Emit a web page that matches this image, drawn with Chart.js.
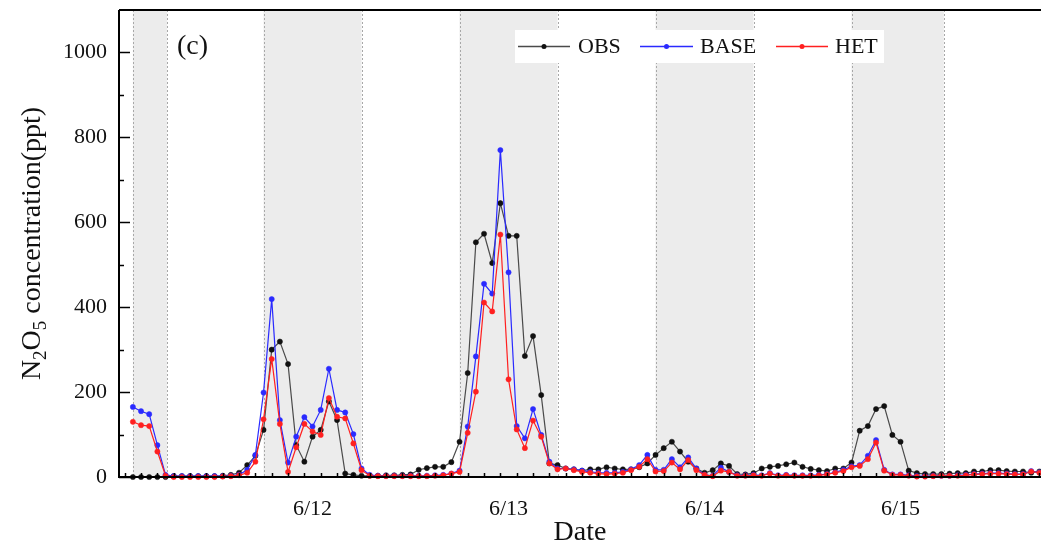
<!DOCTYPE html>
<html><head><meta charset="utf-8">
<script src="https://cdn.jsdelivr.net/npm/chart.js@4.4.0/dist/chart.umd.min.js"></script>
<style>html,body{margin:0;padding:0;background:#fff;}#wrap{width:1041px;height:547px;}</style>
</head><body><div id="wrap"><canvas id="c" width="1041" height="547"></canvas></div>
<script>
// first sample at 6/11 02:00, hourly; x values are hours since 6/11 00:00
const startHour = 2;
const obs = [
  0,0,0,0,0,2,2,2,2,2,
  2,3,5,10,28,50,111,300,319,266,
  75,36,95,111,178,134,8,5,3,3,
  3,4,4,5,6,17,21,24,24,35,
  83,245,553,573,504,645,568,568,285,332,
  193,32,28,20,18,15,18,18,23,20,
  18,18,23,32,52,68,83,60,36,20,
  10,16,32,26,7,6,9,20,24,26,
  30,34,24,19,16,14,20,20,34,109,
  120,160,167,99,83,15,9,7,7,7,
  8,9,9,13,13,16,16,14,13,13,
  10,13];
const base = [
  165,155,148,75,5,2,2,2,2,2,
  2,2,3,5,17,52,199,419,134,34,
  95,141,119,158,255,158,152,101,20,5,
  3,3,3,3,3,3,3,4,5,8,
  15,119,284,455,432,770,482,120,91,160,
  99,36,20,20,18,15,12,10,10,10,
  12,18,28,52,17,17,42,23,46,20,
  5,3,22,12,4,4,5,4,9,4,
  5,4,4,4,5,7,11,17,25,28,
  50,87,17,6,6,4,2,2,3,3,
  3,4,5,7,8,9,9,8,7,7,
  14,11];
const het = [
  130,122,120,60,3,0,0,0,0,0,
  0,1,2,4,10,36,136,278,125,12,
  70,125,107,99,186,142,138,79,16,3,
  2,2,2,2,2,2,2,3,4,8,
  12,104,201,411,390,571,230,112,68,133,
  95,32,18,20,16,12,10,8,7,8,
  10,16,24,42,13,14,34,18,40,16,
  5,2,15,12,3,3,4,3,8,3,
  4,3,3,3,4,6,10,14,23,26,
  42,81,15,5,5,3,1,1,2,3,
  3,3,4,6,7,8,8,7,6,6,
  13,10];
const seriesNames = ['OBS','BASE','HET'];
const dayTicks = [24,48,72,96];
const dayLabels = ['6/12','6/13','6/14','6/15'];
const nightBands = [[2,6.2],[18,30],[42,54],[66,78],[90,101.3]];
const yTickValues = [0,100,200,300,400,500,600,700,800,900,1000];
const panelLabel = '(c)';

const SERIF = '"Liberation Serif", "Times New Roman", serif';
const toPts = arr => arr.map((v,i)=>({x: startHour + i, y: v}));
const noPad = s => { s.paddingTop = 0; s.paddingBottom = 0; s.paddingLeft = 0; s.paddingRight = 0; };

const decor = {
  id: 'decor',
  beforeDatasetsDraw(chart){
    const {ctx, chartArea:a, scales:{x}} = chart;
    ctx.save();
    ctx.beginPath(); ctx.rect(a.left, a.top, a.right-a.left, a.bottom-a.top); ctx.clip();
    nightBands.forEach(([s,e])=>{
      const x0 = x.getPixelForValue(s), x1 = x.getPixelForValue(e);
      ctx.fillStyle = '#ececec';
      ctx.fillRect(x0, a.top, x1-x0, a.bottom-a.top);
      ctx.strokeStyle = '#a8a8a8'; ctx.lineWidth = 1; ctx.setLineDash([2,2]);
      [x0,x1].forEach(px=>{ctx.beginPath(); ctx.moveTo(Math.round(px)+0.5, a.top); ctx.lineTo(Math.round(px)+0.5, a.bottom); ctx.stroke();});
    });
    ctx.restore();
  },
  afterDatasetsDraw(chart){
    const {ctx, chartArea:a, scales:{x,y}} = chart;
    ctx.save();
    // frame
    ctx.strokeStyle = '#000'; ctx.lineWidth = 2;
    ctx.beginPath(); ctx.moveTo(a.left, a.top); ctx.lineTo(a.right, a.top); ctx.stroke();
    ctx.beginPath(); ctx.moveTo(a.left, a.top); ctx.lineTo(a.left, a.bottom); ctx.lineTo(a.right, a.bottom); ctx.stroke();
    // y ticks (inward)
    ctx.lineWidth = 1.5;
    yTickValues.forEach(v=>{
      const py = Math.round(y.getPixelForValue(v))+0.5;
      const len = v % 200 === 0 ? 11 : 5;
      ctx.beginPath(); ctx.moveTo(a.left, py); ctx.lineTo(a.left+len, py); ctx.stroke();
    });
    // x minor ticks every 2 h (inward)
    for (let h = 1; h < x.max; h += 2) {
      if (h < x.min) continue;
      const px = Math.round(x.getPixelForValue(h))+0.5;
      ctx.beginPath(); ctx.moveTo(px, a.bottom); ctx.lineTo(px, a.bottom-4); ctx.stroke();
    }
    // legend
    ctx.fillStyle = '#fff';
    ctx.fillRect(515, 30, 369, 33);
    const lx = [[518,570,578],[640,693,700],[776,828,835]];
    chart.data.datasets.forEach((ds,i)=>{
      const [l0,l1,tx] = lx[i]; const ly = 46.5;
      ctx.strokeStyle = ds.borderColor; ctx.lineWidth = 1.3;
      ctx.beginPath(); ctx.moveTo(l0, ly); ctx.lineTo(l1, ly); ctx.stroke();
      ctx.fillStyle = ds.pointBackgroundColor;
      ctx.beginPath(); ctx.arc((l0+l1)/2, ly, 2.5, 0, Math.PI*2); ctx.fill();
      ctx.fillStyle = '#111'; ctx.font = '22px ' + SERIF; ctx.textBaseline = 'middle'; ctx.textAlign = 'left';
      ctx.fillText(ds.label, tx, ly+1);
    });
    // panel label
    ctx.fillStyle = '#111'; ctx.font = '28px ' + SERIF; ctx.textBaseline = 'middle'; ctx.textAlign = 'left';
    ctx.fillText(panelLabel, 177, 47);
    // y title with subscripts
    const parts = [['N',0],['2',1],['O',0],['5',1],[' concentration(ppt)',0]];
    const big = 28, small = 19;
    ctx.translate(31, (a.top+a.bottom)/2);
    ctx.rotate(-Math.PI/2);
    let total = 0;
    parts.forEach(([t,s])=>{ctx.font = (s?small:big)+'px '+SERIF; total += ctx.measureText(t).width;});
    let cx = -total/2;
    ctx.textBaseline = 'alphabetic'; ctx.textAlign = 'left'; ctx.fillStyle = '#111';
    parts.forEach(([t,s])=>{
      ctx.font = (s?small:big)+'px '+SERIF;
      ctx.fillText(t, cx, s ? 15 : 9);
      cx += ctx.measureText(t).width;
    });
    ctx.restore();
  }
};

new Chart(document.getElementById('c'), {
  type: 'line',
  data: {
    datasets: [
      {label: seriesNames[0], data: toPts(obs), borderColor: '#4a4a4a', pointBackgroundColor: '#111', pointBorderColor: '#111', order: 3},
      {label: seriesNames[1], data: toPts(base), borderColor: '#2a2aff', pointBackgroundColor: '#2a2aff', pointBorderColor: '#2a2aff', order: 2},
      {label: seriesNames[2], data: toPts(het), borderColor: '#ff2020', pointBackgroundColor: '#ff2020', pointBorderColor: '#ff2020', order: 1}
    ].map(d=>Object.assign(d,{borderWidth:1.2, pointRadius:2.6, pointBorderWidth:0.5, tension:0, clip:{left:0,top:0,right:6,bottom:6}}))
  },
  options: {
    responsive: false, animation: false, devicePixelRatio: 1,
    layout: {autoPadding: false, padding: {top: 10, right: 0, left: 0, bottom: 0}},
    plugins: {legend: {display: false}, tooltip: {enabled: false}},
    scales: {
      x: {
        type: 'linear', min: 0.3, max: 113.2,
        grid: {display: false, drawTicks: false}, border: {display: false},
        afterBuildTicks: s => { s.ticks = dayTicks.map(v=>({value:v})); },
        afterFit: s => { s.height = 70; noPad(s); },
        ticks: {autoSkip: false, maxRotation: 0, padding: 19, color: '#111', font: {family: SERIF, size: 22},
          callback: v => { const k = dayTicks.indexOf(v); return k >= 0 ? dayLabels[k] : ''; }},
        title: {display: true, text: 'Date', color: '#111', font: {family: SERIF, size: 28, lineHeight: 1.05}, padding: {top: 0, bottom: 0}}
      },
      y: {
        min: 0, max: 1100,
        grid: {display: false, drawTicks: false}, border: {display: false},
        afterBuildTicks: s => { s.ticks = yTickValues.map(v=>({value:v})); },
        afterFit: s => { s.width = 119; noPad(s); },
        ticks: {autoSkip: false, padding: 12, color: '#111', font: {family: SERIF, size: 22},
          callback: v => (v % 200 === 0 ? String(v) : '')}
      }
    }
  },
  plugins: [decor]
});
</script></body></html>
